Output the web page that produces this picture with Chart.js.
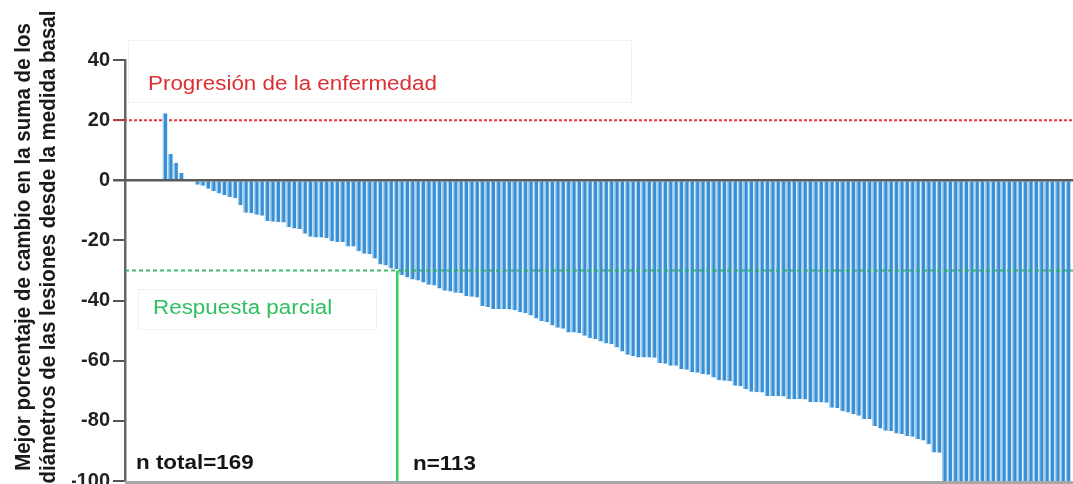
<!DOCTYPE html>
<html>
<head>
<meta charset="utf-8">
<script src="https://cdn.jsdelivr.net/npm/chart.js@4.4.1/dist/chart.umd.min.js"></script>
<style>
  html, body { margin: 0; padding: 0; background: #fff; width: 1073px; height: 484px; overflow: hidden; }
  canvas { display: block; }
</style>
</head>
<body>
<canvas id="cascada" width="1073" height="500"></canvas>
<script>
// Best percentage change from baseline in the sum of target-lesion diameters, one bar per patient (sorted)
const cambioMejor = [
  22.3, 8.7, 5.8, 2.4, 0, 0, -1.5, -1.8, -2.8, -3.6,
  -4.4, -5, -5.6, -5.9, -8.3, -10.8, -11, -11.5, -11.8, -13.5,
  -13.8, -13.9, -14, -15.5, -16, -16.2, -17.8, -18.8, -19, -19,
  -19.2, -20.3, -20.5, -20.5, -22, -22, -23.6, -24.4, -24.6, -26,
  -28, -28.3, -29.3, -29.5, -31.5, -32.3, -33, -33.3, -34, -34.7,
  -35, -36, -36.7, -37, -37.4, -37.6, -38.5, -38.7, -39, -41.8,
  -42.2, -42.8, -42.8, -42.8, -43, -43.2, -43.9, -44.2, -45, -46,
  -46.9, -47.2, -48.3, -49, -49.4, -50.6, -50.6, -50.8, -51.7, -52.5,
  -52.8, -53.6, -54.3, -54.5, -55.6, -56.9, -58, -58.5, -58.9, -58.9,
  -58.9, -59, -60.8, -61, -61.7, -61.7, -62.8, -63, -63.8, -64,
  -64.5, -64.7, -65.6, -66.5, -66.7, -66.8, -68.3, -68.5, -69.5, -70.3,
  -70.5, -70.6, -71.7, -71.7, -71.8, -71.9, -72.8, -72.8, -72.8, -72.9,
  -73.7, -73.8, -73.9, -74, -75.6, -75.7, -76.8, -77.2, -77.8, -78.3,
  -79.4, -79.5, -81.7, -82.5, -83.3, -83.4, -84.2, -84.4, -85, -85.3,
  -86.1, -86.5, -87.8, -90.5, -90.6,
  -100, -100, -100, -100, -100, -100, -100, -100, -100, -100, -100, -100,
  -100, -100, -100, -100, -100, -100, -100, -100, -100, -100, -100, -100
];
const yTicks = [40, 20, 0, -20, -40, -60, -80, -100];
const umbralProgresion = 20;    // disease progression threshold (%)
const umbralRespuesta = -30;    // partial response threshold (%)
const divisorRespuesta = 43.2;  // patient position where responders begin
const tituloEje = [
  'Mejor porcentaje de cambio en la suma de los',
  'diámetros de las lesiones desde la medida basal'
];
const textoProgresion = 'Progresión de la enfermedad';
const textoRespuesta = 'Respuesta parcial';
const textoTotal = 'n total=169';
const textoRespondedores = 'n=113';

const puntos = cambioMejor.map((v, i) => ({ x: i, y: v }));
const ESTIRAR = 1.12;
const FUENTE = '"Liberation Sans", Arial, sans-serif';

function texto(ctx, str, x, y, font, color) {
  ctx.save();
  ctx.translate(x, y);
  ctx.scale(ESTIRAR, 1);
  ctx.font = font;
  ctx.fillStyle = color;
  ctx.textAlign = 'left';
  ctx.textBaseline = 'middle';
  ctx.fillText(str, 0, 0);
  ctx.restore();
}

function linea(ctx, x1, y1, x2, y2, color, ancho, guiones) {
  ctx.save();
  ctx.strokeStyle = color;
  ctx.lineWidth = ancho;
  ctx.setLineDash(guiones || []);
  ctx.beginPath();
  ctx.moveTo(x1, y1);
  ctx.lineTo(x2, y2);
  ctx.stroke();
  ctx.restore();
}

const decoracion = {
  id: 'decoracion',
  beforeDatasetsDraw(chart) {
    const { ctx, chartArea: a, scales: { y } } = chart;
    // faint text boxes
    ctx.save();
    ctx.strokeStyle = '#f1f1f1';
    ctx.lineWidth = 1;
    ctx.strokeRect(128.5, 40.5, 503, 62);
    ctx.strokeRect(138.5, 289.5, 238, 40);
    ctx.restore();
    const yp = y.getPixelForValue(umbralProgresion);
    linea(ctx, a.left - 11, yp, a.right, yp, '#e5373d', 2, [3, 2]);
  },
  afterDatasetsDraw(chart) {
    const { ctx, chartArea: a, scales: { x, y } } = chart;
    const y0 = y.getPixelForValue(0);
    linea(ctx, a.left - 12, y0, a.right, y0, '#5a5a5a', 2.5);
    const yr = y.getPixelForValue(umbralRespuesta);
    linea(ctx, a.left, yr, a.right, yr, 'rgba(45,175,95,0.9)', 2, [4, 3]);
    const xd = x.getPixelForValue(divisorRespuesta);
    linea(ctx, xd, yr, xd, chart.height, '#2fd35a', 2.5);
    const yb = y.getPixelForValue(-100);
    linea(ctx, a.left, yb + 1.5, a.right, yb + 1.5, '#a8a8a8', 3);

    texto(ctx, textoProgresion, 148, 84, '20px ' + FUENTE, '#dc2f33');
    texto(ctx, textoRespuesta, 153, 308, '20px ' + FUENTE, '#2fbf60');
    texto(ctx, textoTotal, 136, 463, 'bold 20px ' + FUENTE, '#151515');
    texto(ctx, textoRespondedores, 413, 464, 'bold 20px ' + FUENTE, '#151515');

    // rotated axis title, two lines
    const centros = [24, 49];
    tituloEje.forEach((t, i) => {
      ctx.save();
      ctx.translate(centros[i], 247);
      ctx.scale(ESTIRAR, 1);
      ctx.rotate(-Math.PI / 2);
      ctx.font = 'bold 20.5px ' + FUENTE;
      ctx.fillStyle = '#1a1a1a';
      ctx.textAlign = 'center';
      ctx.textBaseline = 'middle';
      ctx.fillText(t, 0, 0);
      ctx.restore();
    });
  }
};

new Chart(document.getElementById('cascada'), {
  type: 'bar',
  data: {
    datasets: [{
      data: puntos,
      backgroundColor: '#3a8fd2',
      borderColor: '#9accf0',
      borderWidth: { left: 1.5, right: 0.5, top: 0, bottom: 0 },
      borderSkipped: false,
      barPercentage: 0.96,
      categoryPercentage: 1
    }]
  },
  options: {
    responsive: false,
    animation: false,
    layout: { padding: { left: 72, right: 0, top: 60, bottom: 19 } },
    plugins: { legend: { display: false }, tooltip: { enabled: false } },
    scales: {
      x: { type: 'linear', min: -7.44, max: 168.9, offset: false, bounds: 'data', display: false },
      y: {
        min: -100,
        max: 40,
        afterBuildTicks: s => { s.ticks = yTicks.map(v => ({ value: v })); },
        afterFit: s => { s.width = 53; },
        ticks: {
          color: '#222',
          padding: 3,
          font: { family: FUENTE, size: 20, weight: 'bold' }
        },
        grid: { drawOnChartArea: false, drawTicks: true, tickLength: 12, color: '#555', lineWidth: 2 },
        border: { display: true, color: '#666', width: 2.5 }
      }
    }
  },
  plugins: [decoracion]
});
</script>
</body>
</html>
